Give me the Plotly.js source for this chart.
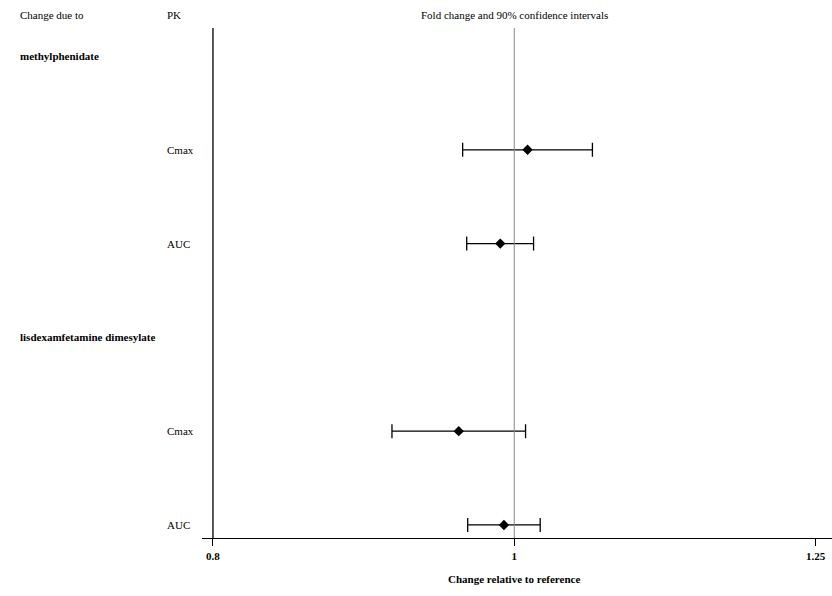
<!DOCTYPE html>
<html>
<head>
<meta charset="utf-8">
<script src="https://cdn.plot.ly/plotly-3.0.1.min.js"></script>
<style>html,body{margin:0;padding:0;background:#fff;}#chart{width:832px;height:596px;}</style>
</head>
<body>
<div id="chart"></div>
<script>
// ---- data ----
const drugs = ['methylphenidate', 'lisdexamfetamine dimesylate'];
const drugRows = [6, 3];
const pkLabels = ['Cmax', 'AUC', 'Cmax', 'AUC'];
const pkRows = [5, 4, 2, 1];
const foldChange = [1.0099, 0.9897, 0.9597, 0.9924];
const ciLow = [0.9625, 0.9654, 0.9134, 0.9661];
const ciHigh = [1.0596, 1.0144, 1.0084, 1.0194];
const tickVals = [0.8, 1, 1.25];
const tickText = ['0.8', '1', '1.25'];

const FONT = 'Liberation Serif, Times New Roman, serif';

const trace = {
  type: 'scatter',
  mode: 'markers',
  x: foldChange,
  y: pkRows,
  marker: {symbol: 'diamond', size: 8, color: '#000'},
  error_x: {
    type: 'data', symmetric: false,
    array: foldChange.map((v, i) => ciHigh[i] - v),
    arrayminus: foldChange.map((v, i) => v - ciLow[i]),
    color: '#000', thickness: 1.3, width: 7
  },
  hoverinfo: 'x+y',
  showlegend: false,
  cliponaxis: false
};

const ppu = 3116.5; // px per log10 unit
const xLeft = Math.log10(0.8) - 11 / ppu;
const xRight = Math.log10(1.25) + 16.5 / ppu;

const annotations = [];
const plotL = 202, plotW = 630;
function px2paper(px) { return (px - plotL) / plotW; }

drugs.forEach((d, i) => {
  annotations.push({text: '<b>' + d + '</b>', xref: 'paper', x: px2paper(18), xanchor: 'left',
    yref: 'y', y: drugRows[i], yanchor: 'middle', showarrow: false,
    font: {family: FONT, size: 11, color: '#000'}});
});
pkLabels.forEach((p, i) => {
  annotations.push({text: p, xref: 'paper', x: px2paper(165), xanchor: 'left',
    yref: 'y', y: pkRows[i], yanchor: 'middle', showarrow: false,
    font: {family: FONT, size: 11, color: '#000'}});
});
annotations.push({text: 'Change due to', xref: 'paper', x: px2paper(18), xanchor: 'left',
  yref: 'paper', y: 1 + 13 / 510, yanchor: 'middle', showarrow: false,
  font: {family: FONT, size: 11, color: '#000'}});
annotations.push({text: 'PK', xref: 'paper', x: px2paper(165), xanchor: 'left',
  yref: 'paper', y: 1 + 13 / 510, yanchor: 'middle', showarrow: false,
  font: {family: FONT, size: 11, color: '#000'}});
annotations.push({text: 'Fold change and 90% confidence intervals', xref: 'x', x: 0, xanchor: 'center',
  yref: 'paper', y: 1 + 13 / 510, yanchor: 'middle', showarrow: false,
  font: {family: FONT, size: 11, color: '#000'}});
annotations.push({text: '<b>Change relative to reference</b>', xref: 'x', x: 0, xanchor: 'center',
  yref: 'paper', y: -41 / 510, yanchor: 'middle', showarrow: false,
  font: {family: FONT, size: 11, color: '#000'}});

const layout = {
  width: 832, height: 596,
  margin: {l: plotL, r: 0, t: 28, b: 58},
  paper_bgcolor: '#fff', plot_bgcolor: '#fff',
  font: {family: FONT, size: 11, color: '#000'},
  xaxis: {
    type: 'log', range: [xLeft, xRight],
    tickvals: tickVals, ticktext: tickText.map(t => '<b>' + t + '</b>'),
    ticks: 'outside', ticklen: 7, tickwidth: 1, tickcolor: '#000',
    showline: true, linecolor: '#000', linewidth: 1.3,
    showgrid: false, zeroline: false,
    tickfont: {family: FONT, size: 11, color: '#000'}
  },
  yaxis: {
    range: [0.861, 6.2985], showticklabels: false, ticks: '',
    showgrid: false, zeroline: false, showline: false
  },
  shapes: [
    {type: 'line', xref: 'x', x0: 0.8, x1: 0.8, yref: 'paper', y0: 0, y1: 1,
      line: {color: '#000', width: 1.3}},
    {type: 'line', xref: 'x', x0: 1, x1: 1, yref: 'paper', y0: 0, y1: 1,
      line: {color: '#888', width: 1}}
  ],
  annotations: annotations
};

Plotly.newPlot('chart', [trace], layout, {displayModeBar: false, staticPlot: true});
</script>
</body>
</html>
